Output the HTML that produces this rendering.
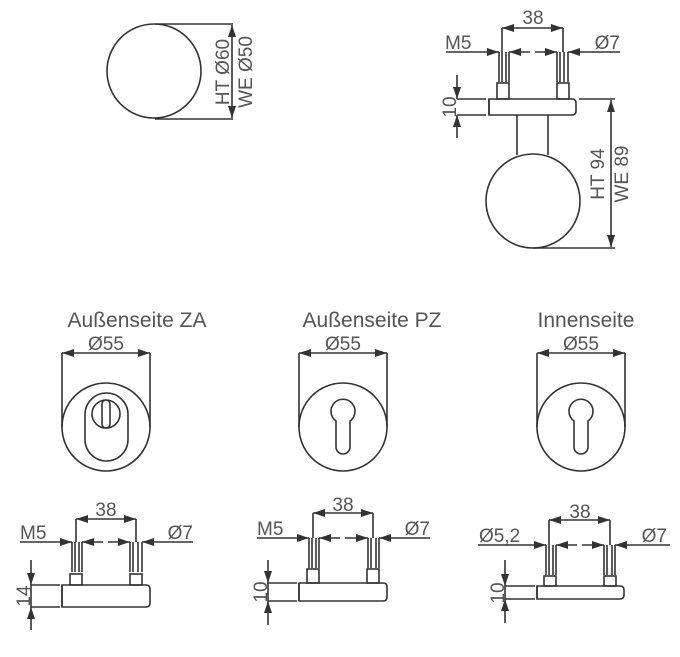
<!DOCTYPE html>
<html><head><meta charset="utf-8"><style>
html,body{margin:0;padding:0;background:#fff;}
svg{display:block;}
text{font-family:"Liberation Sans",sans-serif;fill:#555;}
</style></head><body>
<svg width="680" height="657" viewBox="0 0 680 657" xmlns="http://www.w3.org/2000/svg">
<defs>
<marker id="a" viewBox="0 0 12 8" refX="12" refY="4" markerWidth="12" markerHeight="8" markerUnits="userSpaceOnUse" orient="auto"><path d="M0,0L12,4L0,8z" fill="#333"/></marker>
<marker id="b" viewBox="0 0 12 8" refX="0" refY="4" markerWidth="12" markerHeight="8" markerUnits="userSpaceOnUse" orient="auto"><path d="M12,0L0,4L12,8z" fill="#333"/></marker>
</defs>
<g fill="none" stroke="#333" stroke-width="1.6">
<!-- top left -->
<circle cx="154" cy="71" r="47"/>
<line x1="155" y1="24" x2="233" y2="24"/><line x1="155" y1="119" x2="233" y2="119"/>
<line x1="232" y1="25" x2="232" y2="118" marker-start="url(#b)" marker-end="url(#a)"/>
<!-- top right -->
<line x1="502" y1="28" x2="563" y2="28" marker-start="url(#b)" marker-end="url(#a)"/>
<line x1="502" y1="28" x2="502" y2="52"/><line x1="563" y1="28" x2="563" y2="52"/>
<line x1="446" y1="52" x2="499" y2="52" marker-end="url(#a)"/>
<line x1="509" y1="52" x2="530" y2="52" marker-start="url(#b)"/>
<line x1="535" y1="52" x2="557" y2="52" marker-end="url(#a)"/>
<line x1="568" y1="52" x2="620" y2="52" marker-start="url(#b)"/>
<path d="M499,52V82M502,52V82M506,52V82M509,52V82M557,52V82M560,52V82M564,52V82M568,52V82"/>
<rect x="497" y="83" width="12" height="16"/><rect x="557" y="83" width="12" height="16"/>
<path d="M489,99H572Q576,99 576,103V111Q576,115 572,115H489Z"/>
<path d="M457,99H486M457,115H486M489,99V115"/>
<line x1="457" y1="75" x2="457" y2="99" marker-end="url(#a)"/>
<line x1="457" y1="138" x2="457" y2="115" marker-end="url(#a)"/>
<path d="M517,115V155M548,115V155"/>
<circle cx="533" cy="201" r="47"/>
<path d="M579,99H615M533,248H615"/>
<line x1="611" y1="100" x2="611" y2="247" marker-start="url(#b)" marker-end="url(#a)"/>
<!-- rosettes -->
<line x1="62" y1="353" x2="150" y2="353" marker-start="url(#b)" marker-end="url(#a)"/>
<path d="M62,353V427M150,353V427"/>
<circle cx="106" cy="427" r="44"/>
<rect x="85" y="393" width="43" height="68" rx="21.5"/>
<circle cx="106" cy="414" r="14"/>
<rect x="102" y="400" width="8" height="28" rx="4"/>

<line x1="299" y1="353" x2="387" y2="353" marker-start="url(#b)" marker-end="url(#a)"/>
<path d="M299,353V427M387,353V427"/>
<circle cx="343" cy="427" r="44"/>
<path d="M336,421A12,12 0 1 1 350,421V447A7,7 0 0 1 336,447Z"/>

<line x1="537" y1="353" x2="625" y2="353" marker-start="url(#b)" marker-end="url(#a)"/>
<path d="M537,353V427M625,353V427"/>
<circle cx="581" cy="427" r="44"/>
<path d="M574,421A12,12 0 1 1 588,421V447A7,7 0 0 1 574,447Z"/>

<!-- bottom ZA -->
<line x1="76" y1="519" x2="136" y2="519" marker-start="url(#b)" marker-end="url(#a)"/>
<path d="M76,519V542M136,519V542"/>
<line x1="20" y1="542" x2="72" y2="542" marker-end="url(#a)"/>
<line x1="82" y1="542" x2="103" y2="542" marker-start="url(#b)"/>
<line x1="108" y1="542" x2="130" y2="542" marker-end="url(#a)"/>
<line x1="142" y1="542" x2="193" y2="542" marker-start="url(#b)"/>
<path d="M72,542V572M75,542V572M79,542V572M82,542V572M130,542V572M133,542V572M138,542V572M142,542V572"/>
<rect x="70" y="574" width="12" height="11"/><rect x="130" y="574" width="12" height="11"/>
<path d="M62,585H146Q150,585 150,589V603Q150,607 146,607H62Z"/>
<path d="M31,585H60M31,607H60M62,585V607M31,585V607"/>
<line x1="31" y1="560" x2="31" y2="585" marker-end="url(#a)"/>
<line x1="31" y1="630" x2="31" y2="607" marker-end="url(#a)"/>

<!-- bottom PZ -->
<line x1="313" y1="513" x2="373" y2="513" marker-start="url(#b)" marker-end="url(#a)"/>
<path d="M313,513V538M373,513V538"/>
<line x1="257" y1="538" x2="309" y2="538" marker-end="url(#a)"/>
<line x1="319" y1="538" x2="340" y2="538" marker-start="url(#b)"/>
<line x1="345" y1="538" x2="368" y2="538" marker-end="url(#a)"/>
<line x1="379" y1="538" x2="430" y2="538" marker-start="url(#b)"/>
<path d="M309,538V568M312,538V568M316,538V568M319,538V568M368,538V568M371,538V568M376,538V568M379,538V568"/>
<rect x="307" y="569" width="12" height="14"/><rect x="367" y="569" width="12" height="14"/>
<path d="M299,583H383Q387,583 387,587V597Q387,601 383,601H299Z"/>
<path d="M268,583H297M268,601H297M299,583V601M268,583V601"/>
<line x1="268" y1="560" x2="268" y2="583" marker-end="url(#a)"/>
<line x1="268" y1="625" x2="268" y2="601" marker-end="url(#a)"/>

<!-- bottom Innen -->
<line x1="549" y1="520" x2="610" y2="520" marker-start="url(#b)" marker-end="url(#a)"/>
<path d="M549,520V545M610,520V545"/>
<line x1="478" y1="545" x2="546" y2="545" marker-end="url(#a)"/>
<line x1="556" y1="545" x2="577" y2="545" marker-start="url(#b)"/>
<line x1="582" y1="545" x2="604" y2="545" marker-end="url(#a)"/>
<line x1="615" y1="545" x2="670" y2="545" marker-start="url(#b)"/>
<path d="M546,545V575M549,545V575M553,545V575M556,545V575M604,545V575M607,545V575M612,545V575M615,545V575"/>
<rect x="544" y="576" width="12" height="10"/><rect x="604" y="576" width="12" height="10"/>
<path d="M537,586H620Q624,586 624,590V595Q624,599 620,599H537Z"/>
<path d="M505,586H535M505,599H535M537,586V599M505,586V599"/>
<line x1="505" y1="560" x2="505" y2="586" marker-end="url(#a)"/>
<line x1="505" y1="623" x2="505" y2="599" marker-end="url(#a)"/>
</g>
<g font-size="19">
<text transform="translate(229,72) rotate(-90)" text-anchor="middle">HT Ø60</text>
<text transform="translate(252,72) rotate(-90)" text-anchor="middle">WE Ø50</text>
<text x="533" y="24" text-anchor="middle">38</text>
<text x="445" y="49">M5</text>
<text x="620" y="49" text-anchor="end">Ø7</text>
<text transform="translate(456,107) rotate(-90)" text-anchor="middle">10</text>
<text transform="translate(604,174) rotate(-90)" text-anchor="middle">HT 94</text>
<text transform="translate(628,174) rotate(-90)" text-anchor="middle">WE 89</text>
<text x="106" y="350" text-anchor="middle">Ø55</text>
<text x="343" y="350" text-anchor="middle">Ø55</text>
<text x="581" y="350" text-anchor="middle">Ø55</text>
<text x="106" y="516" text-anchor="middle">38</text>
<text x="20" y="539">M5</text>
<text x="193" y="539" text-anchor="end">Ø7</text>
<text transform="translate(30,596) rotate(-90)" text-anchor="middle">14</text>
<text x="343" y="511" text-anchor="middle">38</text>
<text x="257" y="535">M5</text>
<text x="430" y="535" text-anchor="end">Ø7</text>
<text transform="translate(267,592) rotate(-90)" text-anchor="middle">10</text>
<text x="580" y="518" text-anchor="middle">38</text>
<text x="479" y="542">Ø5,2</text>
<text x="667" y="542" text-anchor="end">Ø7</text>
<text transform="translate(504,593) rotate(-90)" text-anchor="middle">10</text>
</g>
<g font-size="21">
<text x="137" y="327" text-anchor="middle">Außenseite ZA</text>
<text x="372" y="327" text-anchor="middle">Außenseite PZ</text>
<text x="586" y="327" text-anchor="middle">Innenseite</text>
</g>
</svg>
</body></html>
